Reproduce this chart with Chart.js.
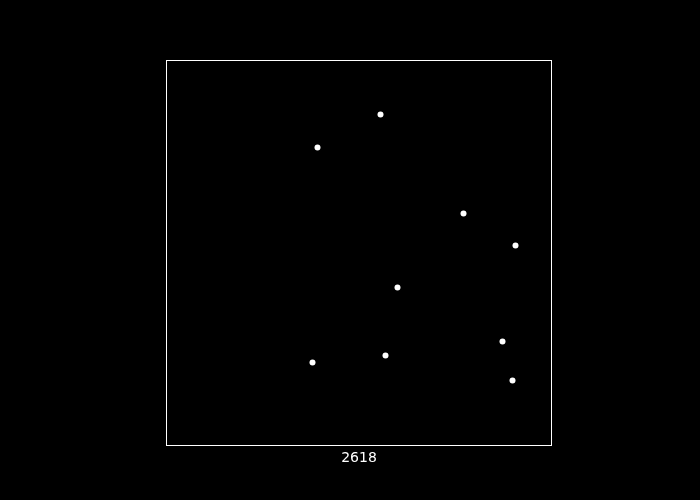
<!DOCTYPE html>
<html>
<head>
<meta charset="utf-8">
<script src="https://cdn.jsdelivr.net/npm/chart.js@4"></script>
<style>
html,body{margin:0;padding:0;background:#000;}
#wrap{width:700px;height:500px;}
</style>
</head>
<body>
<div id="wrap"><canvas id="c" width="700" height="500"></canvas></div>
<script>
const xValues = [214.5, 151.5, 297.5, 349.5, 231.5, 336.5, 219.5, 146.5, 346.5];
const yValues = [330.5, 297.5, 231.5, 199.5, 157.5, 103.5, 89.5, 82.5, 64.5];
const xLabel = "2618";
const xRange = [0, 385];
const yRange = [0, 385];

const points = xValues.map((x, i) => ({x: x, y: yValues[i]}));

const framePlugin = {
  id: 'frame',
  beforeDraw(chart) {
    const ctx = chart.ctx;
    ctx.save();
    ctx.fillStyle = '#000';
    ctx.fillRect(0, 0, chart.width, chart.height);
    ctx.restore();
  },
  afterDraw(chart) {
    const a = chart.chartArea;
    const ctx = chart.ctx;
    ctx.save();
    ctx.strokeStyle = '#fff';
    ctx.lineWidth = 1;
    ctx.strokeRect(a.left + 0.5, a.top + 0.5, a.right - a.left, a.bottom - a.top);
    ctx.fillStyle = '#fff';
    ctx.font = '14px "DejaVu Sans"';
    ctx.textAlign = 'center';
    ctx.textBaseline = 'middle';
    ctx.fillText(xLabel, (a.left + a.right) / 2 + 0.5, a.bottom + 13.5);
    ctx.restore();
  }
};

new Chart(document.getElementById('c'), {
  type: 'scatter',
  data: {
    datasets: [{
      data: points,
      backgroundColor: '#fff',
      borderColor: '#fff',
      borderWidth: 0,
      pointRadius: 3,
      pointHoverRadius: 3
    }]
  },
  options: {
    responsive: false,
    animation: false,
    devicePixelRatio: 1,
    layout: {padding: {left: 166, right: 149, top: 60, bottom: 55}},
    plugins: {legend: {display: false}, tooltip: {enabled: false}},
    scales: {
      x: {type: 'linear', min: xRange[0], max: xRange[1], display: false},
      y: {type: 'linear', min: yRange[0], max: yRange[1], display: false}
    }
  },
  plugins: [framePlugin]
});
</script>
</body>
</html>
